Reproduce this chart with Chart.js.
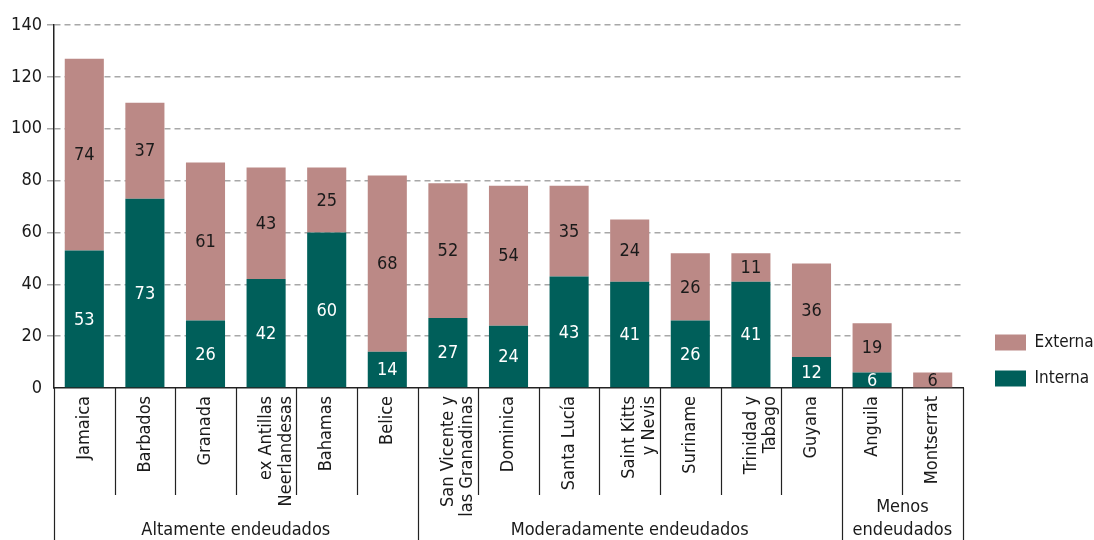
<!DOCTYPE html>
<html>
<head>
<meta charset="utf-8">
<script src="https://cdn.jsdelivr.net/npm/chart.js@4/dist/chart.umd.min.js"></script>
<style>
  html, body { margin: 0; padding: 0; background: #fff; }
  #wrap { width: 1094px; height: 540px; position: relative; }
</style>
</head>
<body>
<div id="wrap"><canvas id="debtChart"></canvas></div>
<script>
// Deuda publica por pais (porcentaje del PIB)
const categories = [
    ['Jamaica'], ['Barbados'], ['Granada'], ['ex Antillas', 'Neerlandesas'], ['Bahamas'], ['Belice'],
    ['San Vicente y', 'las Granadinas'], ['Dominica'], ['Santa Lucía'], ['Saint Kitts', 'y Nevis'],
    ['Suriname'], ['Trinidad y', 'Tabago'], ['Guyana'], ['Anguila'], ['Montserrat']
];
const interna = [53, 73, 26, 42, 60, 14, 27, 24, 43, 41, 26, 41, 12, 6, 0];
const externa = [74, 37, 61, 43, 25, 68, 52, 54, 35, 24, 26, 11, 36, 19, 6];
const groupNames = [['Altamente endeudados'], ['Moderadamente endeudados'], ['Menos', 'endeudados']];
const groupBreaks = [0, 6, 13, 15];
const yMin = 0, yMax = 140, yStep = 20;

const FONT = "'Liberation Sans Narrow', 'DejaVu Sans Condensed', 'Roboto', sans-serif";
const FS = 18;
const TXT = '#1a1a1a';
const COL_EXT = '#bb8986';
const COL_INT = '#005f5a';

// numbers inside each bar segment
const segmentLabels = {
    id: 'segmentLabels',
    afterDatasetsDraw(chart) {
        const ctx = chart.ctx;
        ctx.save();
        ctx.font = FS + 'px ' + FONT;
        ctx.textAlign = 'center';
        ctx.textBaseline = 'middle';
        chart.data.datasets.forEach((ds, di) => {
            const meta = chart.getDatasetMeta(di);
            meta.data.forEach((bar, i) => {
                const v = ds.data[i];
                if (!v) return;
                ctx.fillStyle = di === 0 ? '#ffffff' : TXT;
                ctx.fillText(String(v), bar.x, (bar.y + bar.base) / 2 + 1);
            });
        });
        ctx.restore();
    }
};

// separators under the x axis and group names
const groupAxis = {
    id: 'groupAxis',
    afterDraw(chart) {
        const x = chart.scales.x;
        const ctx = chart.ctx;
        const n = categories.length;
        const step = x.width / n;
        const top = x.top;
        ctx.save();
        ctx.strokeStyle = '#222';
        ctx.lineWidth = 1.2;
        for (let i = 0; i <= n; i++) {
            const px = Math.round(x.left + i * step) + 0.5;
            const isGroup = groupBreaks.includes(i);
            ctx.beginPath();
            ctx.moveTo(px, top);
            ctx.lineTo(px, isGroup ? chart.height : top + 107);
            ctx.stroke();
        }
        ctx.fillStyle = TXT;
        ctx.font = FS + 'px ' + FONT;
        ctx.textAlign = 'center';
        ctx.textBaseline = 'middle';
        groupNames.forEach((lines, g) => {
            const cx = x.left + (groupBreaks[g] + groupBreaks[g + 1]) / 2 * step;
            lines.forEach((line, k) => {
                const y = chart.height - 10 - (lines.length - 1 - k) * 23;
                ctx.fillText(line, cx, y);
            });
        });
        ctx.restore();
    }
};

// keep the legend column at a fixed width, placed beside the plot bottom
const legendBox = {
    id: 'legendBox',
    beforeLayout(chart) {
        const lg = chart.legend;
        if (lg && !lg._fixed) {
            const fit = lg.fit.bind(lg);
            lg.fit = function () { fit(); this.width = 131; };
            lg._fixed = true;
        }
    },
    afterLayout(chart) {
        const lg = chart.legend;
        lg.left += 13;
        lg.bottom = chart.chartArea.bottom + 18;
    }
};

new Chart(document.getElementById('debtChart'), {
    type: 'bar',
    data: {
        labels: categories,
        datasets: [
            { label: 'Interna', data: interna, backgroundColor: COL_INT, barPercentage: 0.645, categoryPercentage: 1 },
            { label: 'Externa', data: externa, backgroundColor: COL_EXT, barPercentage: 0.645, categoryPercentage: 1 }
        ]
    },
    options: {
        responsive: true,
        maintainAspectRatio: false,
        animation: false,
        layout: { padding: { top: 25, left: 0, right: 0, bottom: 0 } },
        plugins: {
            tooltip: { enabled: false },
            legend: {
                position: 'right',
                align: 'end',
                reverse: true,
                labels: {
                    boxWidth: 31,
                    boxHeight: 16,
                    padding: 19,
                    color: TXT,
                    font: { family: FONT, size: 17 }
                }
            }
        },
        scales: {
            x: {
                stacked: true,
                grid: { display: false, drawTicks: false },
                border: { display: true, color: '#222', width: 1.5 },
                ticks: {
                    autoSkip: false,
                    maxRotation: 90,
                    minRotation: 90,
                    padding: 8,
                    color: TXT,
                    font: { family: FONT, size: FS, lineHeight: 1.1 }
                },
                afterFit(s) { s.height = 152; }
            },
            y: {
                stacked: true,
                min: yMin,
                max: yMax,
                ticks: {
                    stepSize: yStep,
                    padding: 5,
                    color: TXT,
                    font: { family: FONT, size: FS }
                },
                grid: {
                    color: c => (c.tick && c.tick.value === 0) ? 'rgba(0,0,0,0)' : '#a8a8a8',
                    lineWidth: 1.5,
                    tickLength: 7,
                    tickBorderDash: [6, 4]
                },
                border: { display: true, color: '#222', width: 1.5, dash: [6, 4] },
                afterFit(s) { s.width = 54; }
            }
        }
    },
    plugins: [segmentLabels, groupAxis, legendBox]
});
</script>
</body>
</html>
